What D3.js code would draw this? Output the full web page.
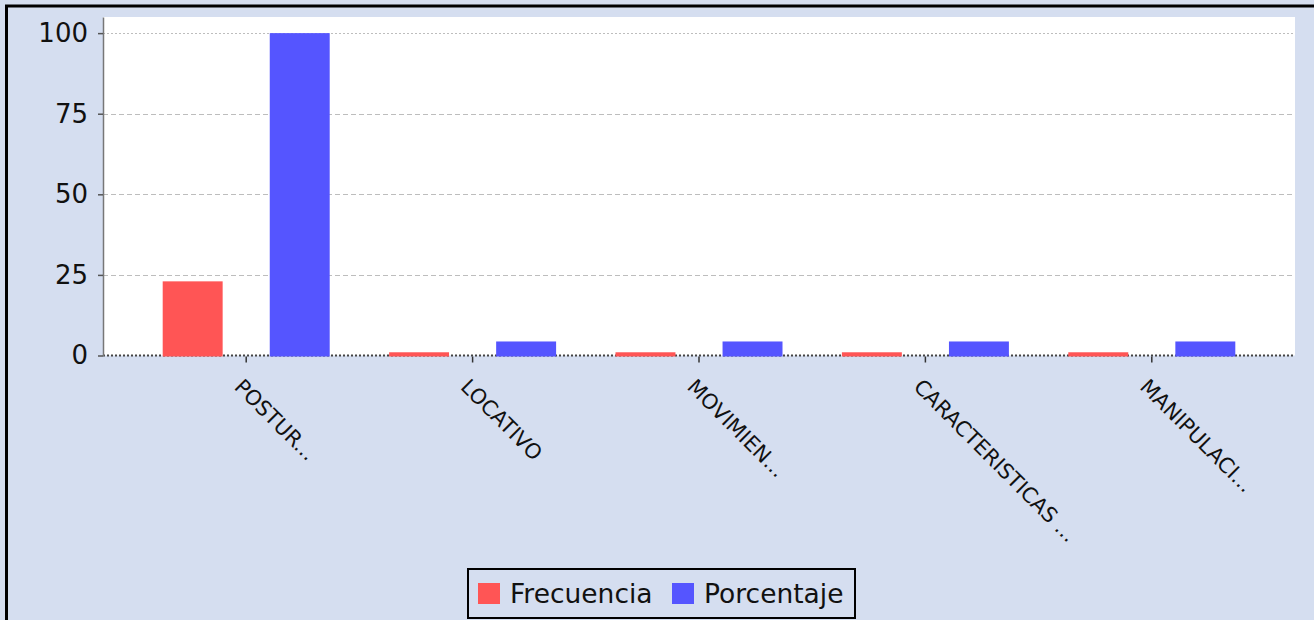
<!DOCTYPE html>
<html><head><meta charset="utf-8">
<script src="https://cdn.jsdelivr.net/npm/d3@7/dist/d3.min.js"></script>
<style>
html,body{margin:0;padding:0;background:#d5def0;overflow:hidden;}
svg{display:block;font-family:"DejaVu Sans",sans-serif;}
</style></head>
<body>
<script>
const categories = ["POSTUR...", "LOCATIVO", "MOVIMIEN...", "CARACTERISTICAS ...", "MANIPULACI..."];
const seriesNames = ["Frecuencia", "Porcentaje"];
const frecuencia = [23, 1, 1, 1, 1];
const porcentaje = [100, 4.35, 4.35, 4.35, 4.35];
const yTicks = [0, 25, 50, 75, 100];
const colors = ["#ff5555", "#5555ff"];

const W = 1314, H = 620;
const plot = {left: 103, right: 1295, top: 17, bottom: 355.5};

const svg = d3.select("body").append("svg").attr("width", W).attr("height", H);
svg.append("rect").attr("width", W).attr("height", H).attr("fill", "#d5def0");
// outer frame
svg.append("rect").attr("x", 6.5).attr("y", 6).attr("width", W + 20).attr("height", H + 20)
  .attr("fill", "none").attr("stroke", "#000").attr("stroke-width", 3);

// plot background
svg.append("rect").attr("x", plot.left).attr("y", plot.top)
  .attr("width", plot.right - plot.left).attr("height", plot.bottom - plot.top).attr("fill", "#fff");

const y = d3.scaleLinear().domain([0, 105]).range([plot.bottom, plot.top]);
const x0 = d3.scaleBand().domain(categories).range([plot.left + 30, plot.right - 30]).padding(0);
const bw = x0.bandwidth();
const x1 = d3.scaleBand().domain(seriesNames).range([(bw - 167) / 2, (bw + 167) / 2]).paddingInner(0.44).paddingOuter(0);

// gridlines
svg.append("g").selectAll("line").data(yTicks.filter(d => d > 0)).join("line")
  .attr("x1", plot.left).attr("x2", plot.right)
  .attr("y1", d => Math.round(y(d)) + 0.5).attr("y2", d => Math.round(y(d)) + 0.5)
  .attr("stroke", "#bdbdbd").attr("stroke-width", 1)
  .attr("stroke-dasharray", d => d === 100 ? "2,2" : "5,3");

// zero line (dotted)
svg.append("line").attr("x1", plot.left).attr("x2", plot.right)
  .attr("y1", plot.bottom).attr("y2", plot.bottom)
  .attr("stroke", "#444").attr("stroke-width", 2).attr("stroke-dasharray", "2,2");

// bars
const rows = categories.map((c, i) => ({c, vals: [frecuencia[i], porcentaje[i]]}));
const g = svg.append("g").selectAll("g").data(rows).join("g")
  .attr("transform", d => `translate(${x0(d.c)},0)`);
g.selectAll("rect").data(d => d.vals.map((v, j) => ({s: seriesNames[j], v, j}))).join("rect")
  .attr("x", d => x1(d.s)).attr("width", x1.bandwidth())
  .attr("y", d => y(d.v)).attr("height", d => plot.bottom + 1 - y(d.v))
  .attr("fill", d => colors[d.j]);

// y axis
const yAxis = d3.axisLeft(y).tickValues(yTicks).tickSizeInner(5).tickSizeOuter(0).tickPadding(10);
const ya = svg.append("g").attr("transform", `translate(${plot.left},0)`).call(yAxis);
ya.select(".domain").attr("stroke", "#777").attr("stroke-width", 1.5);
ya.selectAll(".tick line").attr("stroke", "#555").attr("stroke-width", 1.5);
ya.selectAll(".tick text").attr("font-size", 26).attr("fill", "#111")
  .attr("font-family", "DejaVu Sans");

// x axis ticks and labels
const xa = svg.append("g");
xa.selectAll("line").data(categories).join("line")
  .attr("x1", d => x0(d) + bw / 2).attr("x2", d => x0(d) + bw / 2)
  .attr("y1", plot.bottom + 1).attr("y2", plot.bottom + 7)
  .attr("stroke", "#333").attr("stroke-width", 1.5);
xa.selectAll("text").data(categories).join("text")
  .attr("transform", d => `translate(${x0(d) + bw / 2 - 13},${388}) rotate(45)`)
  .attr("font-size", 21).attr("fill", "#111").attr("text-anchor", "start")
  .text(d => d);

// legend
const lg = svg.append("g");
lg.append("rect").attr("x", 468).attr("y", 569).attr("width", 387).attr("height", 49)
  .attr("fill", "none").attr("stroke", "#000").attr("stroke-width", 2);
const items = [{n: seriesNames[0], x: 478, tx: 510}, {n: seriesNames[1], x: 672, tx: 704}];
items.forEach((it, i) => {
  lg.append("rect").attr("x", it.x).attr("y", 583).attr("width", 22).attr("height", 21).attr("fill", colors[i]);
  lg.append("text").attr("x", it.tx).attr("y", 603).attr("font-size", 26.5).attr("fill", "#111").text(it.n);
});
</script>
</body></html>
